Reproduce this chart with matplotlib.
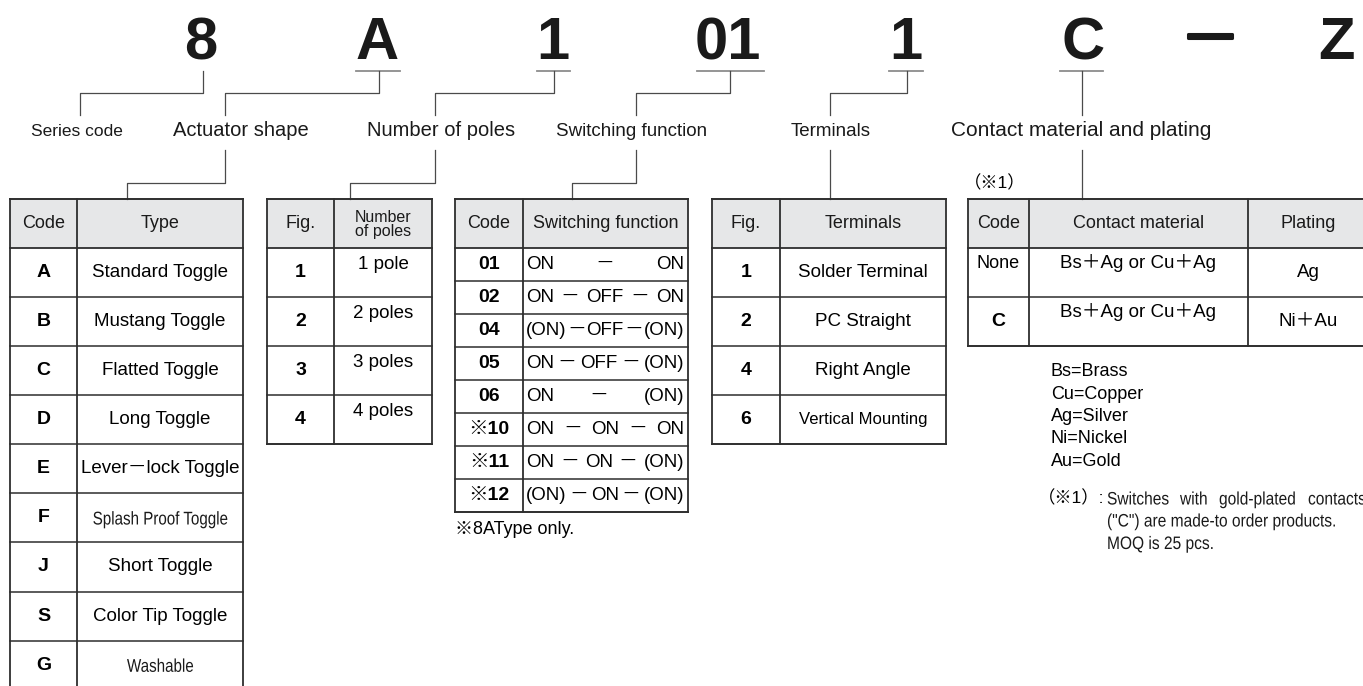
import matplotlib
matplotlib.use('Agg')
import matplotlib.pyplot as plt
import matplotlib.patheffects as pe
from matplotlib.textpath import TextPath
from matplotlib.patches import PathPatch
from matplotlib.font_manager import FontProperties
from matplotlib.transforms import Affine2D

# ---- contenido ----
part_chars = ['8', 'A', '1', '01', '1', 'C', 'Z']
part_labels = ['Series code', 'Actuator shape', 'Number of poles',
               'Switching function', 'Terminals', 'Contact material and plating']

actuator_header = ['Code', 'Type']
actuator_codes = ['A', 'B', 'C', 'D', 'E', 'F', 'J', 'S', 'G']
actuator_types = ['Standard Toggle', 'Mustang Toggle', 'Flatted Toggle', 'Long Toggle',
                  'Lever－lock Toggle', 'Splash Proof Toggle', 'Short Toggle',
                  'Color Tip Toggle', 'Washable']

poles_header = ['Fig.', 'Number\nof poles']
pole_figs = ['1', '2', '3', '4']
pole_names = ['1 pole', '2 poles', '3 poles', '4 poles']

switch_header = ['Code', 'Switching function']
switch_codes = ['01', '02', '04', '05', '06', '※10', '※11', '※12']
switch_functions = [
    ['ON', '－', 'ON'],
    ['ON', '－', 'OFF', '－', 'ON'],
    ['(ON)', '－', 'OFF', '－', '(ON)'],
    ['ON', '－', 'OFF', '－', '(ON)'],
    ['ON', '－', '(ON)'],
    ['ON', '－', 'ON', '－', 'ON'],
    ['ON', '－', 'ON', '－', '(ON)'],
    ['(ON)', '－', 'ON', '－', '(ON)'],
]
switch_note = '※8AType only.'

terminal_header = ['Fig.', 'Terminals']
terminal_figs = ['1', '2', '4', '6']
terminal_names = ['Solder Terminal', 'PC Straight', 'Right Angle', 'Vertical Mounting']

contact_header = ['Code', 'Contact material', 'Plating']
contact_codes = ['None', 'C']
contact_materials = ['Bs＋Ag or Cu＋Ag', 'Bs＋Ag or Cu＋Ag']
contact_platings = ['Ag', 'Ni＋Au']
abbreviations = ['Bs=Brass', 'Cu=Copper', 'Ag=Silver', 'Ni=Nickel', 'Au=Gold']
note_mark = '（※1）'
note_words = ['Switches', 'with', 'gold-plated', 'contacts']
note_lines = ['("C") are made-to order products.', 'MOQ is 25 pcs.']

# ---- fuentes ----
FAM = ['Liberation Sans', 'Noto Sans CJK JP', 'DejaVu Sans']
plt.rcParams['font.family'] = FAM

LINE = '#2e2e2e'
CONN = '#4a4a4a'
HEAD = '#e6e7e8'
TXT = '#1a1a1a'

fig = plt.figure(figsize=(13.63, 6.86), dpi=100)
ax = fig.add_axes([0, 0, 1, 1])
ax.set_xlim(0, 1363)
ax.set_ylim(686, 0)
ax.axis('off')


def estrecho(x, y, s, pt, ha='center', sx=0.84):
    # texto condensado: se dibuja el contorno y se comprime en horizontal
    px = pt * 100 / 72
    tp = TextPath((0, 0), s, size=px, prop=FontProperties(family=FAM))
    ancho = tp.get_extents().x1 * sx
    x0 = x - ancho / 2 if ha == 'center' else x
    tr = Affine2D().scale(sx, -1).translate(x0, y + 0.36 * px) + ax.transData
    ax.add_patch(PathPatch(tp, transform=tr, fc=TXT, ec='none', lw=0))


# ---- codigo grande ----
char_x = [201, 377, 553, 728, 906, 1083, 1337]
for ch, x in zip(part_chars, char_x):
    ax.text(x, 59, ch, fontsize=43, fontweight='bold', ha='center', va='baseline',
            color=TXT)
ax.text(1210, 48, '—', fontsize=32, fontweight='bold', ha='center', va='baseline',
        color=TXT, path_effects=[pe.withStroke(linewidth=2.2, foreground=TXT)])

underlines = [(356, 400), (537, 570), (697, 764), (889, 923), (1060, 1103)]
for x0, x1 in underlines:
    ax.plot([x0, x1], [70.5, 70.5], color='#8c8c8c', lw=1.3)

# conectores de arriba
top_x = [203, 378.6, 553.6, 730, 906.5, 1082]
label_x = [79.5, 225.4, 435, 636, 830, 1082]
label_cx = [77, 241, 441, 632, 831, 1081]
label_fs = [12.5, 14.5, 14.5, 13.5, 13.5, 15]
for tx, lx in zip(top_x, label_x):
    ax.plot([tx, tx, lx, lx], [70.5, 93, 93, 115], color=CONN, lw=0.9)
for lab, cx, fs in zip(part_labels, label_cx, label_fs):
    ax.text(cx, 131, lab, fontsize=fs, ha='center', va='center', color=TXT)

# conectores de abajo
table_x = [127, 350, 572, 830, 1082]
for lx, tx in zip(label_x[1:], table_x):
    ax.plot([lx, lx, tx, tx], [150, 183, 183, 199.3], color=CONN, lw=0.9)


def tabla(cols, nrows, row_h, header, top=199.3, head_h=48.5):
    bottom = top + head_h + nrows * row_h
    ax.fill_between([cols[0], cols[-1]], top, top + head_h, color=HEAD, lw=0)
    for x in cols:
        ax.plot([x, x], [top, bottom], color=LINE, lw=1.3)
    ax.plot([cols[0], cols[-1]], [top, top], color=LINE, lw=1.4)
    ax.plot([cols[0], cols[-1]], [top + head_h, top + head_h], color=LINE, lw=1.3)
    for i in range(1, nrows + 1):
        y = top + head_h + i * row_h
        ax.plot([cols[0], cols[-1]], [y, y], color=LINE, lw=1.1 if i < nrows else 1.4)
    for j, h in enumerate(header):
        dos = '\n' in h
        ax.text((cols[j] + cols[j + 1]) / 2, top + head_h / 2 + (1 if dos else 0), h,
                fontsize=11.5 if dos else 13,
                ha='center', va='center', color=TXT,
                linespacing=0.92 if dos else 1.2)
    centros_x = [(cols[j] + cols[j + 1]) / 2 for j in range(len(cols) - 1)]
    centros_y = [top + head_h + (i + 0.5) * row_h for i in range(nrows)]
    return centros_x, centros_y


# tabla 1: actuador
cx, cy = tabla([10, 77, 243], len(actuator_codes), 49.1, actuator_header)
for code, tipo, y in zip(actuator_codes, actuator_types, cy):
    ax.text(cx[0], y, code, fontsize=14, fontweight='bold', ha='center', va='center')
    if tipo in ('Splash Proof Toggle', 'Washable'):
        estrecho(cx[1], y, tipo, 13.3, sx=0.82)
    else:
        ax.text(cx[1], y, tipo, fontsize=13.5, ha='center', va='center')

# tabla 2: polos
cx, cy = tabla([267, 334, 432], len(pole_figs), 49, poles_header)
for fig_n, nom, y in zip(pole_figs, pole_names, cy):
    ax.text(cx[0], y, fig_n, fontsize=14, fontweight='bold', ha='center', va='center')
    ax.text(cx[1], y - 8, nom, fontsize=13.5, ha='center', va='center')

# tabla 3: funcion
cx, cy = tabla([455, 523, 688], len(switch_codes), 33, switch_header)
fig.canvas.draw()
rend = fig.canvas.get_renderer()
for code, toks, y in zip(switch_codes, switch_functions, cy):
    ax.text(cx[0], y, code, fontsize=14, fontweight='bold', ha='center', va='center')
    objs = [ax.text(0, y, t, fontsize=13.5, ha='left', va='center') for t in toks]
    anchos = [o.get_window_extent(rend).width for o in objs]
    x0, x1 = 526, 684
    hueco = (x1 - x0 - sum(anchos)) / (len(objs) - 1)
    x = x0
    for o, w in zip(objs, anchos):
        o.set_x(x)
        x += w + hueco
ax.text(455, 530, switch_note, fontsize=13, ha='left', va='center')

# tabla 4: terminales
cx, cy = tabla([712, 780, 946], len(terminal_figs), 49, terminal_header)
for fig_n, nom, y in zip(terminal_figs, terminal_names, cy):
    ax.text(cx[0], y, fig_n, fontsize=14, fontweight='bold', ha='center', va='center')
    ax.text(cx[1], y, nom, fontsize=12 if nom.startswith('Vertical') else 13.5,
            ha='center', va='center')

# tabla 5: contactos
cx, cy = tabla([968, 1029, 1248, 1368], len(contact_codes), 49, contact_header)
for code, mat, plat, y in zip(contact_codes, contact_materials, contact_platings, cy):
    if code == 'None':
        ax.text(cx[0], y - 9, code, fontsize=13, ha='center', va='center')
    else:
        ax.text(cx[0], y, code, fontsize=14, fontweight='bold', ha='center', va='center')
    ax.text(cx[1], y - 9, mat, fontsize=13.5, ha='center', va='center')
    ax.text(cx[2], y, plat, fontsize=13.5, ha='center', va='center')
ax.text(995, 183, note_mark, fontsize=12.5, ha='center', va='center')

for i, ab in enumerate(abbreviations):
    ax.text(1051, 372 + i * 22.3, ab, fontsize=13, ha='left', va='center')

ax.text(1071, 498, note_mark + ':', fontsize=12.5, ha='center', va='center')
for w, x in zip(note_words, [1107, 1180, 1219, 1308]):
    estrecho(x, 498, w, 13, ha='left', sx=0.86)
for i, ln in enumerate(note_lines):
    estrecho(1107, 520 + i * 22.5, ln, 13, ha='left', sx=0.86)

fig.savefig('out.png', dpi=100)
